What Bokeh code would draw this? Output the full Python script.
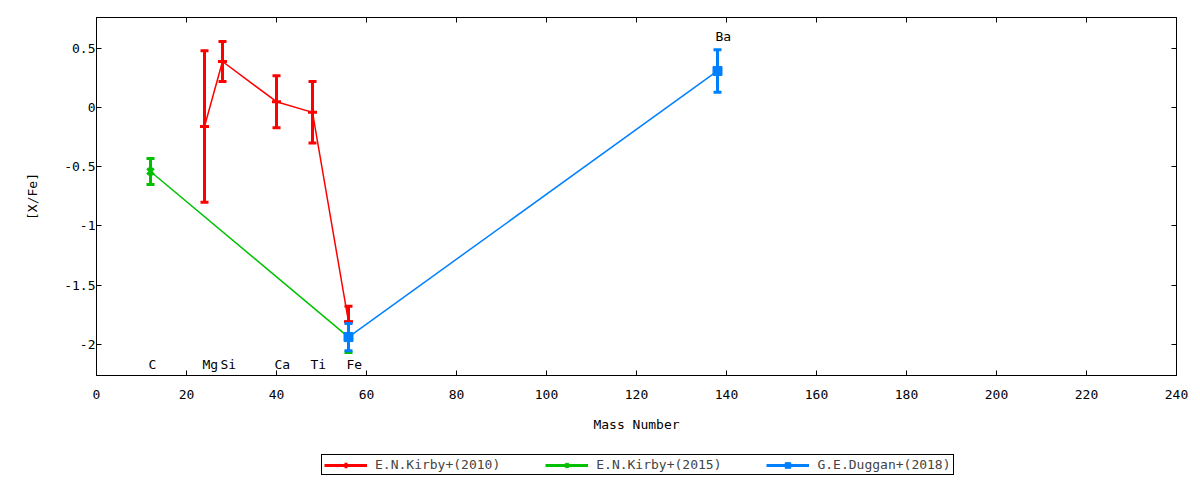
from bokeh.plotting import figure
from bokeh.layouts import column
from bokeh.models import (ColumnDataSource, Legend, LegendItem, LinearAxis,
                          FixedTicker, Range1d)
from bokeh.embed import file_html
from bokeh.resources import INLINE
from bokeh.core.properties import value

FONT = "DejaVu Sans Mono"
FS = "13px"

# ---------------- data ----------------
kirby2010_elements = ["Mg", "Si", "Ca", "Ti", "Fe"]
kirby2010_mass = [24, 28, 40, 48, 56]
kirby2010_xfe = [-0.16, 0.39, 0.05, -0.04, -1.81]
kirby2010_err = [0.64, 0.17, 0.22, 0.26, 0.13]

kirby2015_elements = ["C", "Fe"]
kirby2015_mass = [12, 56]
kirby2015_xfe = [-0.54, -1.94]
kirby2015_err = [0.11, 0.13]

duggan2018_elements = ["Fe", "Ba"]
duggan2018_mass = [56, 138]
duggan2018_xfe = [-1.94, 0.31]
duggan2018_err = [0.115, 0.18]

label_elements = ["C", "Mg", "Si", "Ca", "Ti", "Fe", "Ba"]
label_mass = [12, 24, 28, 40, 48, 56, 138]
label_y = [-2.17, -2.17, -2.17, -2.17, -2.17, -2.17, 0.6]

x_ticks = [0, 20, 40, 60, 80, 100, 120, 140, 160, 180, 200, 220, 240]
y_ticks = [-2, -1.5, -1, -0.5, 0, 0.5]
y_tick_labels = ["-2", "-1.5", "-1", "-0.5", "0", "0.5"]

series_names = ["E.N.Kirby+(2010)", "E.N.Kirby+(2015)", "G.E.Duggan+(2018)"]
series_colors = ["#ff0000", "#00c000", "#0080ff"]
series_markers = ["cross", "x", "square"]

# ---------------- main figure ----------------
p = figure(width=1200, height=437, output_backend="svg", toolbar_location=None,
           x_range=Range1d(0, 240), y_range=Range1d(-2.265, 0.762),
           x_axis_location=None, y_axis_location=None,
           min_border_left=96, min_border_right=24, min_border_top=17,
           min_border_bottom=62, background_fill_color="white",
           border_fill_color="white")
p.grid.visible = False
p.outline_line_color = "black"
p.outline_line_width = 1


def style_axis(ax, labels=True):
    ax.axis_line_color = "black"
    ax.major_tick_in = 5
    ax.major_tick_out = 0
    ax.minor_tick_line_color = None
    ax.major_tick_line_color = "black"
    ax.major_label_text_font = FONT
    ax.major_label_text_font_size = FS
    ax.major_label_text_color = "black"
    ax.axis_label_text_font = FONT
    ax.axis_label_text_font_size = FS
    ax.axis_label_text_font_style = "normal"
    ax.axis_label_text_color = "black"
    if not labels:
        ax.major_label_standoff = 0


xb = LinearAxis(ticker=FixedTicker(ticks=x_ticks), axis_label="Mass Number")
style_axis(xb)
xb.major_label_standoff = 14
xb.axis_label_standoff = 15
xb.major_label_overrides = {t: str(t) for t in x_ticks}
p.add_layout(xb, "below")

yl = LinearAxis(ticker=FixedTicker(ticks=y_ticks), axis_label="[X/Fe]")
style_axis(yl)
yl.major_label_standoff = 1
yl.axis_label_standoff = 21
yl.major_label_overrides = {t: s for t, s in zip(y_ticks, y_tick_labels)}
p.add_layout(yl, "left")

# mirrored ticks (no labels) on top and right, as in the reference
xt = LinearAxis(ticker=FixedTicker(ticks=x_ticks))
style_axis(xt, labels=False)
xt.major_label_overrides = {t: "" for t in x_ticks}
p.add_layout(xt, "above")
yr = LinearAxis(ticker=FixedTicker(ticks=y_ticks))
style_axis(yr, labels=False)
yr.major_label_overrides = {t: "" for t in y_ticks}
p.add_layout(yr, "right")


def draw_series(mass, xfe, err, color, marker):
    src = ColumnDataSource(dict(
        x=mass, y=xfe,
        lo=[v - e for v, e in zip(xfe, err)],
        hi=[v + e for v, e in zip(xfe, err)],
    ))
    p.line("x", "y", source=src, line_color=color, line_width=1.5)
    p.segment(x0="x", y0="lo", x1="x", y1="hi", source=src,
              line_color=color, line_width=3)
    p.scatter("x", "lo", source=src, marker="dash", size=8,
              line_color=color, line_width=3)
    p.scatter("x", "hi", source=src, marker="dash", size=8,
              line_color=color, line_width=3)
    if marker == "square":
        p.scatter("x", "y", source=src, marker="square", size=9,
                  fill_color=color, line_color=color, line_width=1)
    else:
        p.scatter("x", "y", source=src, marker=marker, size=9,
                  line_color=color, line_width=3)
    return src


src2015 = draw_series(kirby2015_mass, kirby2015_xfe, kirby2015_err,
                      series_colors[1], series_markers[1])
src2010 = draw_series(kirby2010_mass, kirby2010_xfe, kirby2010_err,
                      series_colors[0], series_markers[0])
src2018 = draw_series(duggan2018_mass, duggan2018_xfe, duggan2018_err,
                      series_colors[2], series_markers[2])

lsrc = ColumnDataSource(dict(x=label_mass, y=label_y, t=label_elements))
p.text("x", "y", text="t", source=lsrc, text_font=value(FONT),
       text_font_size=FS, text_align="left", text_baseline="middle",
       x_offset=-2, text_color="black")

# ---------------- legend strip (separate figure below) ----------------
# its ranges lie outside the data, so only the legend is visible here
lg = figure(width=1200, height=43, output_backend="svg", toolbar_location=None,
            x_range=Range1d(-1001, -1000), y_range=Range1d(-1001, -1000),
            x_axis_location=None, y_axis_location=None,
            min_border_left=0, min_border_right=0, min_border_top=0,
            min_border_bottom=0, background_fill_color="white",
            border_fill_color="white")
lg.grid.visible = False
lg.outline_line_color = None

items = []
for name, color, marker, src in zip(series_names, series_colors,
                                    series_markers, [src2010, src2015, src2018]):
    seg = lg.segment(x0="x", y0="lo", x1="x", y1="hi", source=src,
                     line_color=color, line_width=3)
    if marker == "square":
        mk = lg.scatter("x", "y", source=src, marker="square", size=9,
                        fill_color=color, line_color=color, line_width=1)
    else:
        mk = lg.scatter("x", "y", source=src, marker=marker, size=9,
                        line_color=color, line_width=3)
    items.append(LegendItem(label=name, renderers=[seg, mk]))

legend = Legend(
    items=items, orientation="horizontal", location=(225, 5),
    label_text_font=FONT, label_text_font_size=FS,
    glyph_width=43, glyph_height=14, label_height=14,
    label_standoff=8, spacing=45, padding=2, margin=0,
    border_line_color="black", border_line_width=1, border_line_alpha=1,
    background_fill_color="white", background_fill_alpha=1,
)
lg.add_layout(legend, "center")

layout = column(p, lg, spacing=0)
open("out.html", "w").write(file_html(layout, INLINE))
